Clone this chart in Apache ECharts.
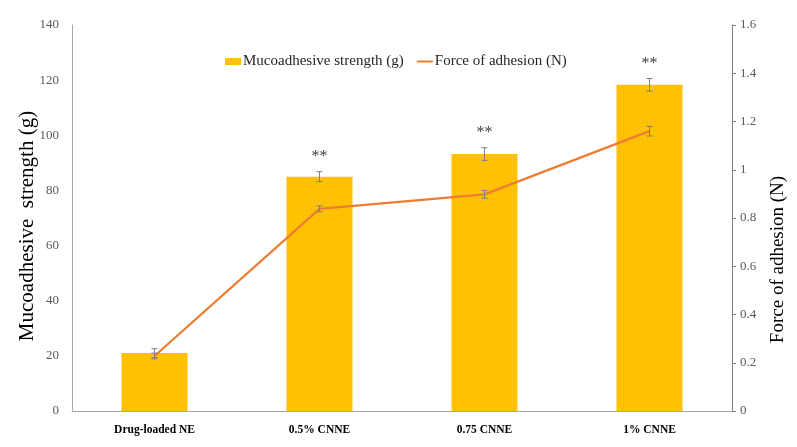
<!DOCTYPE html>
<html>
<head>
<meta charset="utf-8">
<script src="https://cdn.jsdelivr.net/npm/echarts@6/dist/echarts.min.js"></script>
<style>html,body{margin:0;padding:0;background:#fff;}#c{width:797px;height:447px;}</style>
</head>
<body>
<div id="c"></div>
<script>
const categories = ['Drug-loaded NE', '0.5% CNNE', '0.75 CNNE', '1% CNNE'];
const strength = [21, 85, 93.2, 118.3];
const strengthErr = [1.6, 1.8, 2.3, 2.3];
const force = [0.228, 0.838, 0.898, 1.16];
const forceErr = [0.012, 0.012, 0.016, 0.02];
const significance = ['', '**', '**', '**'];

const chart = echarts.init(document.getElementById('c'));
const FONT = '"Liberation Serif", "Times New Roman", serif';
const ERRC = '#7f7f7f';

function errRender(vals, errs, stars) {
  return function (params, api) {
    const i = api.value(0);
    const v = vals[i], e = errs[i];
    const top = api.coord([i, v + e]);
    const bot = api.coord([i, v - e]);
    const x = top[0], cw = 3;
    const children = [
      {type: 'line', shape: {x1: x, y1: top[1], x2: x, y2: bot[1]}, style: {stroke: ERRC, lineWidth: 1}},
      {type: 'line', shape: {x1: x - cw, y1: top[1], x2: x + cw, y2: top[1]}, style: {stroke: ERRC, lineWidth: 1}},
      {type: 'line', shape: {x1: x - cw, y1: bot[1], x2: x + cw, y2: bot[1]}, style: {stroke: ERRC, lineWidth: 1}}
    ];
    if (stars && stars[i]) {
      children.push({type: 'text', x: x, y: top[1] - 15, style: {text: stars[i], fill: '#404040', font: '16px ' + FONT, align: 'center', verticalAlign: 'middle'}});
    }
    return {type: 'group', children: children};
  };
}

chart.setOption({
  animation: false,
  backgroundColor: '#fff',
  grid: {left: 72, right: 65, top: 25, bottom: 36, containLabel: false, outerBoundsMode: 'none'},
  legend: {
    top: 49, left: 220, itemGap: 13, itemWidth: 16, itemHeight: 7,
    textStyle: {fontFamily: FONT, fontSize: 15, color: '#262626', padding: [0, 0, 0, -3]},
    data: [
      {name: 'Mucoadhesive strength (g)', icon: 'rect'},
      {name: 'Force of adhesion (N)', icon: 'path://M0 0 H16 V2 H0 Z', itemStyle: {color: '#ED7D31'}}
    ]
  },
  xAxis: {
    type: 'category', data: categories,
    axisLine: {lineStyle: {color: '#a6a6a6', width: 1}},
    axisTick: {show: false},
    axisLabel: {fontFamily: FONT, fontSize: 11.5, fontWeight: 'bold', color: '#000', margin: 13}
  },
  yAxis: [
    {
      type: 'value', min: 0, max: 140, interval: 20,
      name: 'Mucoadhesive  strength (g)', nameLocation: 'middle', nameGap: 34, nameRotate: 90,
      nameMoveOverlap: false,
      nameTextStyle: {fontFamily: FONT, fontSize: 21, color: '#000', padding: [0, 16, 0, 0]},
      axisLine: {show: true, lineStyle: {color: '#a6a6a6'}},
      axisTick: {show: false},
      splitLine: {show: false},
      axisLabel: {fontFamily: FONT, fontSize: 13, color: '#595959', margin: 13}
    },
    {
      type: 'value', min: 0, max: 1.6, interval: 0.2,
      name: 'Force of adhesion (N)', nameLocation: 'middle', nameGap: 37, nameRotate: 90,
      nameMoveOverlap: false,
      nameTextStyle: {fontFamily: FONT, fontSize: 19, color: '#000', padding: [0, 83, 0, 0]},
      axisLine: {show: true, lineStyle: {color: '#7f7f7f'}},
      axisTick: {show: true, length: 4, lineStyle: {color: '#7f7f7f'}},
      splitLine: {show: false},
      axisLabel: {fontFamily: FONT, fontSize: 13, color: '#595959', margin: 8,
        formatter: v => String(Math.round(v * 10) / 10)}
    }
  ],
  series: [
    {
      name: 'Mucoadhesive strength (g)', type: 'bar', data: strength, barWidth: '40%', yAxisIndex: 0,
      itemStyle: {color: '#FFC000',
        decal: {symbol: 'circle', symbolSize: 0.9, color: 'rgba(255,255,255,0.35)', dashArrayX: [[1, 3]], dashArrayY: [1, 3]}}
    },
    {
      type: 'custom', yAxisIndex: 0, data: strength.map((v, i) => [i, v]), z: 5,
      renderItem: errRender(strength, strengthErr, significance), silent: true
    },
    {
      name: 'Force of adhesion (N)', type: 'line', data: force, yAxisIndex: 1, symbol: 'none',
      lineStyle: {color: '#ED7D31', width: 2.25}, itemStyle: {color: '#ED7D31'}, z: 6
    },
    {
      type: 'custom', yAxisIndex: 1, data: force.map((v, i) => [i, v]), z: 7,
      renderItem: errRender(force, forceErr, null), silent: true
    }
  ]
});
</script>
</body>
</html>
